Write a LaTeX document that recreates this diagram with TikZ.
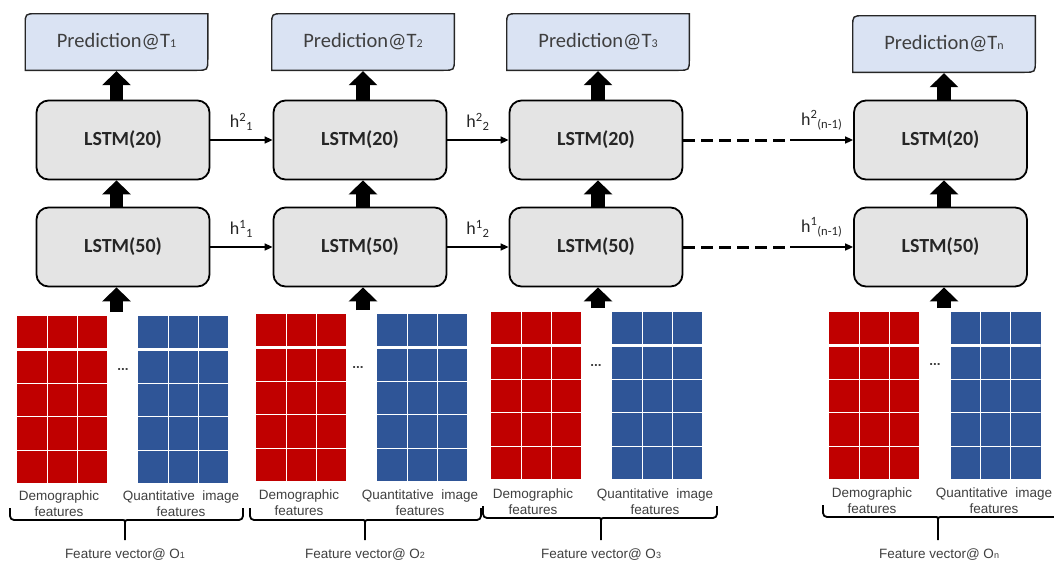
\documentclass[tikz,border=0pt]{standalone}
\usepackage{fontspec}
\setmainfont{Liberation Sans}
\newfontfamily\carlito{Carlito}
\usetikzlibrary{arrows.meta,calc}
\definecolor{demred}{HTML}{C00000}
\definecolor{imgblue}{HTML}{2F5597}
\definecolor{predfill}{HTML}{DAE3F3}
\definecolor{lstmfill}{HTML}{E4E4E4}
\definecolor{textgray}{HTML}{3F3F3F}
\newcommand{\lowidx}[2]{{\fontsize{#1}{#1}\selectfont #2}}

\begin{document}
\begin{tikzpicture}[x=1pt, y=-1pt,
    lstm/.style={draw, line width=1.8pt, rounded corners=12pt, fill=lstmfill,
      minimum width=173pt, minimum height=79pt, text=black!85,
      font=\carlito\bfseries\fontsize{20}{24}\selectfont},
    pred/.style={fill=white, minimum width=184pt, minimum height=58pt, inner sep=0pt,
      text=textgray, font=\carlito\fontsize{20.5}{24}\selectfont,
      path picture={
        \draw[line width=1.4pt, black!85, fill=predfill]
          ([shift={(0.7pt,-12pt)}]path picture bounding box.north west)
          .. controls ([shift={(0.7pt,-0.7pt)}]path picture bounding box.north west)
          .. ([shift={(12pt,-0.7pt)}]path picture bounding box.north west)
          -- ([shift={(-0.7pt,-0.7pt)}]path picture bounding box.north east)
          -- ([shift={(-0.7pt,12pt)}]path picture bounding box.south east)
          .. controls ([shift={(-0.7pt,0.7pt)}]path picture bounding box.south east)
          .. ([shift={(-12pt,0.7pt)}]path picture bounding box.south east)
          -- ([shift={(0.7pt,0.7pt)}]path picture bounding box.south west)
          -- cycle;}},
    gridcells/.style={minimum width=90pt, minimum height=167pt, inner sep=0pt,
      path picture={
        \foreach \dx in {30,60}
          \draw[white, line width=0.9pt] ([xshift=\dx pt]path picture bounding box.north west)
            -- ([xshift=\dx pt]path picture bounding box.south west);
        \foreach \dy in {67,100,134}
          \draw[white, line width=0.9pt] ([yshift=-\dy pt]path picture bounding box.north west)
            -- ([yshift=-\dy pt]path picture bounding box.north east);
        \draw[white, line width=3pt] ([yshift=-33.5pt]path picture bounding box.north west)
          -- ([yshift=-33.5pt]path picture bounding box.north east);}},
    dem/.style={gridcells, fill=demred},
    img/.style={gridcells, fill=imgblue},
    bigarrow/.style={line width=13.5pt, -{Triangle[length=14pt, width=28pt]}},
    harrow/.style={line width=1.6pt, -{Triangle[length=8pt, width=7pt]}},
    dashline/.style={line width=3pt, dash pattern=on 12pt off 6pt},
    hlabel/.style={above=9pt, inner sep=0pt, text=black!85, font=\carlito\fontsize{18}{20}\selectfont},
    caption/.style={align=center, inner sep=0pt, text=textgray, font=\fontsize{13.5}{16}\selectfont},
    brace/.style={line width=1.8pt, rounded corners=4pt},
  ]
  \useasboundingbox (0,0) rectangle (1054,563);

  % time step 1
  \node[pred] (p1) at (116.5,42) {Prediction@T\lowidx{12}{1}};
  \node[lstm] (top1) at (123,140) {LSTM(20)};
  \node[lstm] (bot1) at (123,247) {LSTM(50)};
  \node[dem] (dem1) at (62,399.5) {};
  \node[img] (img1) at (183,399.5) {};
  \node[caption] (dots1) at (123,369) {\textbf{...}};
  \coordinate (in1) at (116.5,312);
  \draw[bigarrow] (in1) -- (bot1.south -| in1);
  \draw[bigarrow] (bot1.north -| p1) -- (top1.south -| p1);
  \draw[bigarrow] (top1.north -| p1) -- (p1.south);
  \node[caption] (demtxt1) at (59,504) {Demographic\\features};
  \node[caption] (imgtxt1) at (181,504) {Quantitative\ \ image\\features};
  \draw[brace] (10,508) |- (119,520) .. controls (125,520) .. (125,527) -- (125,540);
  \draw[brace] (243,508) |- (131,520) .. controls (125,520) .. (125,527);
  \node[caption] (fv1) at (125,555) {Feature vector@ O\lowidx{9}{1}};

  % time step 2
  \node[pred] (p2) at (363,42) {Prediction@T\lowidx{12}{2}};
  \node[lstm] (top2) at (360,140) {LSTM(20)};
  \node[lstm] (bot2) at (360,247) {LSTM(50)};
  \node[dem] (dem2) at (301,397.5) {};
  \node[img] (img2) at (422,397.5) {};
  \node[caption] (dots2) at (358,367) {\textbf{...}};
  \coordinate (in2) at (363,310);
  \draw[bigarrow] (in2) -- (bot2.south -| in2);
  \draw[bigarrow] (bot2.north -| p2) -- (top2.south -| p2);
  \draw[bigarrow] (top2.north -| p2) -- (p2.south);
  \node[caption] (demtxt2) at (299,503) {Demographic\\features};
  \node[caption] (imgtxt2) at (420,503) {Quantitative\ \ image\\features};
  \draw[brace] (250,508) |- (359,520) .. controls (365,520) .. (365,527) -- (365,540);
  \draw[brace] (481,508) |- (371,520) .. controls (365,520) .. (365,527);
  \node[caption] (fv2) at (365,555) {Feature vector@ O\lowidx{9}{2}};

  % time step 3
  \node[pred] (p3) at (598,42) {Prediction@T\lowidx{12}{3}};
  \node[lstm] (top3) at (596,140) {LSTM(20)};
  \node[lstm] (bot3) at (596,247) {LSTM(50)};
  \node[dem] (dem3) at (536,395.5) {};
  \node[img] (img3) at (657,395.5) {};
  \node[caption] (dots3) at (596,365) {\textbf{...}};
  \coordinate (in3) at (598,308);
  \draw[bigarrow] (in3) -- (bot3.south -| in3);
  \draw[bigarrow] (bot3.north -| p3) -- (top3.south -| p3);
  \draw[bigarrow] (top3.north -| p3) -- (p3.south);
  \node[caption] (demtxt3) at (533,502) {Demographic\\features};
  \node[caption] (imgtxt3) at (655,502) {Quantitative\ \ image\\features};
  \draw[brace] (483,506) |- (595,518) .. controls (601,518) .. (601,525) -- (601,540);
  \draw[brace] (717,506) |- (607,518) .. controls (601,518) .. (601,525);
  \node[caption] (fv3) at (601,555) {Feature vector@ O\lowidx{9}{3}};

  % time step n
  \node[pred] (pn) at (944,44) {Prediction@T\lowidx{12}{n}};
  \node[lstm] (topn) at (940.5,140) {LSTM(20)};
  \node[lstm] (botn) at (940.5,247) {LSTM(50)};
  \node[dem] (demn) at (874,395.5) {};
  \node[img] (imgn) at (995.5,395.5) {};
  \node[caption] (dotsn) at (935,364) {\textbf{...}};
  \coordinate (inn) at (944,308);
  \draw[bigarrow] (inn) -- (botn.south -| inn);
  \draw[bigarrow] (botn.north -| pn) -- (topn.south -| pn);
  \draw[bigarrow] (topn.north -| pn) -- (pn.south);
  \node[caption] (demtxtn) at (872,501) {Demographic\\features};
  \node[caption] (imgtxtn) at (994,501) {Quantitative\ \ image\\features};
  \draw[brace] (823,505) |- (932,517) .. controls (938,517) .. (938,524) -- (938,540);
  \draw[brace] (1062,505) |- (944,517) .. controls (938,517) .. (938,524);
  \node[caption] (fvn) at (939,555) {Feature vector@ O\lowidx{9}{n}};

  % hidden states
  \draw[harrow] (top1) -- node[hlabel] (h21) {h\textsuperscript{2}\textsubscript{1}} (top2);
  \draw[harrow] (bot1) -- node[hlabel] (h11) {h\textsuperscript{1}\textsubscript{1}} (bot2);
  \draw[harrow] (top2) -- node[hlabel] (h22) {h\textsuperscript{2}\textsubscript{2}} (top3);
  \draw[harrow] (bot2) -- node[hlabel] (h12) {h\textsuperscript{1}\textsubscript{2}} (bot3);
  \coordinate (gap2) at ($(top3.east)!0.63!(topn.west)$);
  \coordinate (gap1) at ($(bot3.east)!0.63!(botn.west)$);
  \draw[dashline] (top3) -- (gap2);
  \draw[dashline] (bot3) -- (gap1);
  \draw[harrow] (gap2) -- node[hlabel] (h2n) {h\textsuperscript{2}\textsubscript{(n-1)}} (topn);
  \draw[harrow] (gap1) -- node[hlabel] (h1n) {h\textsuperscript{1}\textsubscript{(n-1)}} (botn);
\end{tikzpicture}
\end{document}
